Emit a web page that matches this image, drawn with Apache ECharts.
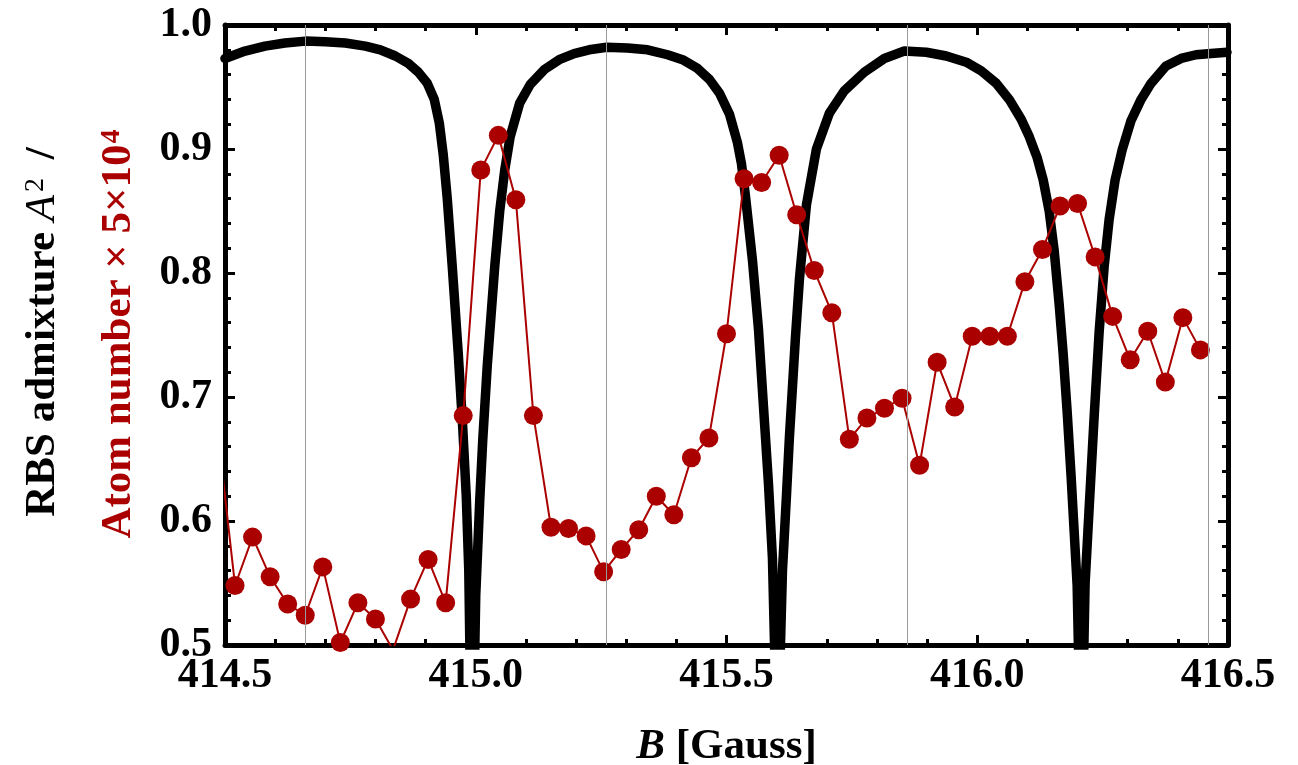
<!DOCTYPE html>
<html><head><meta charset="utf-8">
<script src="https://cdn.jsdelivr.net/npm/echarts@6/dist/echarts.min.js"></script>
<style>html,body{margin:0;padding:0;background:#fff}#c{width:1298px;height:765px}</style>
</head><body><div id="c"></div>
<script>
// Measured atom number (scaled), B in Gauss
const atomB = [414.485,414.520,414.555,414.590,414.625,414.660,414.695,414.730,414.765,414.800,
  414.835,414.870,414.905,414.940,414.975,415.010,415.045,415.080,415.115,415.150,
  415.185,415.220,415.255,415.290,415.325,415.360,415.395,415.430,415.465,415.500,
  415.535,415.570,415.605,415.640,415.675,415.710,415.745,415.780,415.815,415.850,
  415.885,415.920,415.955,415.990,416.025,416.060,416.095,416.130,416.165,416.200,
  416.235,416.270,416.305,416.340,416.375,416.410,416.445];
const atomN = [0.674,0.548,0.587,0.555,0.533,0.524,0.563,0.502,0.534,0.521,
  0.496,0.537,0.569,0.534,0.685,0.883,0.911,0.859,0.685,0.595,
  0.594,0.588,0.559,0.577,0.593,0.620,0.605,0.651,0.667,0.751,
  0.876,0.873,0.895,0.847,0.802,0.768,0.666,0.683,0.691,0.699,
  0.645,0.728,0.692,0.749,0.749,0.749,0.793,0.819,0.854,0.856,
  0.813,0.765,0.730,0.753,0.712,0.764,0.738];
// RBS admixture curve A^2
const rbsB = [414.5000,414.5398,414.5797,414.6195,
  414.6604,414.7002,414.7400,414.7799,414.8098,414.8396,414.8655,414.8855,414.9034,414.9173,
  414.9273,414.9353,414.9432,414.9532,414.9651,414.9741,414.9811,414.9861,414.9900,414.9930,
  414.9960,415.0000,415.0080,415.0139,415.0229,415.0378,415.0478,415.0578,415.0687,415.0876,
  415.1086,415.1365,415.1663,415.1962,415.2261,415.2610,
  415.3028,415.3426,415.3825,415.4124,415.4422,415.4661,415.4861,415.5060,415.5219,415.5299,
  415.5378,415.5518,415.5637,415.5757,415.5837,415.5916,415.5976,415.6016,
  415.6056,415.6116,415.6195,415.6255,415.6375,415.6454,415.6594,415.6793,415.7052,415.7351,
  415.7749,415.8147,415.8546,
  415.8984,415.9382,415.9781,416.0080,416.0378,416.0637,416.0876,416.1036,416.1195,416.1315,
  416.1434,416.1534,416.1633,416.1713,416.1793,416.1873,416.1932,416.1992,416.2032,416.2072,
  416.2112,416.2151,416.2231,416.2331,416.2430,416.2530,416.2629,416.2749,416.2888,416.3068,
  416.3267,416.3466,416.3765,416.4064,416.4363,416.4661,416.4980];
const rbsA2 = [0.973,0.979,0.983,0.9855,
  0.987,0.9865,0.9855,0.983,0.980,0.975,0.969,0.962,0.953,0.940,
  0.921,0.895,0.860,0.805,0.735,0.675,0.620,0.560,0.450,0.0,
  0.450,0.540,0.617,0.665,0.725,0.805,0.850,0.883,0.910,0.937,
  0.952,0.964,0.972,0.977,0.980,0.982,
  0.9815,0.980,0.976,0.972,0.965,0.956,0.945,0.928,0.905,0.888,
  0.862,0.810,0.755,0.680,0.630,0.570,0.470,0.0,
  0.470,0.560,0.620,0.668,0.748,0.795,0.855,0.900,0.929,0.947,
  0.962,0.973,0.979,
  0.978,0.975,0.970,0.963,0.953,0.940,0.924,0.910,0.893,0.875,
  0.850,0.818,0.775,0.735,0.688,0.635,0.592,0.548,0.470,0.0,
  0.470,0.550,0.610,0.684,0.752,0.805,0.843,0.875,0.899,0.923,
  0.940,0.953,0.967,0.973,0.976,0.977,0.978];
const xTickLabels = ['414.5','415.0','415.5','416.0','416.5'];
const yTickLabels = ['0.5','0.6','0.7','0.8','0.9','1.0'];
const gridLinesB = [414.661, 415.261, 415.855, 416.456];

const FONT = 'Liberation Serif';
const RED = '#aa0000';
const chart = echarts.init(document.getElementById('c'), null, {renderer: 'canvas'});

function axisCommon(isX, showLabel, pos) {
  return {
    type: 'value',
    position: pos,
    min: isX ? 414.5 : 0.5,
    max: isX ? 416.5 : 1.0,
    interval: isX ? 0.5 : 0.1,
    axisLine: {show: true, onZero: false, lineStyle: {color: '#000', width: 5}},
    axisTick: {show: true, inside: true, length: 10, lineStyle: {color: '#000', width: 3}},
    minorTick: {show: true, splitNumber: 5, length: 6, lineStyle: {color: '#000', width: 3}},
    splitLine: {show: false},
    minorSplitLine: {show: false},
    axisLabel: {
      show: showLabel,
      fontFamily: FONT, fontWeight: 'bold', fontSize: 42, color: '#000',
      margin: isX ? 10 : 13,
      formatter: function (v) {
        const labels = isX ? xTickLabels : yTickLabels;
        const base = isX ? 414.5 : 0.5, step = isX ? 0.5 : 0.1;
        const i = Math.round((v - base) / step);
        return labels[i] !== undefined ? labels[i] : '';
      }
    }
  };
}

const option = {
  animation: false,
  backgroundColor: '#fff',
  grid: {left: 225, right: 70, top: 25, bottom: 120, show: false,
    containLabel: false, outerBoundsMode: 'none'},
  xAxis: [
    Object.assign(axisCommon(true, true, 'bottom'), {
      name: '{i|B} [Gauss]', nameLocation: 'middle', nameGap: 80,
      nameTextStyle: {fontFamily: FONT, fontWeight: 'bold', fontSize: 43, color: '#000',
        rich: {i: {fontFamily: FONT, fontWeight: 'bold', fontStyle: 'italic', fontSize: 43, color: '#000'}}}
    }),
    axisCommon(true, false, 'top')
  ],
  yAxis: [axisCommon(false, true, 'left'), axisCommon(false, false, 'right')],
  graphic: [
    {
      type: 'text', x: 43, y: 332, rotation: Math.PI / 2,
      style: {
        text: '{b|RBS admixture }{i|A}{s|2}{b| /}',
        align: 'center', verticalAlign: 'middle',
        rich: {
          b: {fontFamily: FONT, fontWeight: 'bold', fontSize: 43, fill: '#000'},
          i: {fontFamily: FONT, fontStyle: 'italic', fontSize: 43, fill: '#000'},
          s: {fontFamily: FONT, fontSize: 28, fill: '#000', verticalAlign: 'top', padding: [0, 8, 14, 3]}
        }
      }
    },
    {
      type: 'text', x: 119, y: 334, rotation: Math.PI / 2,
      style: {
        text: '{b|Atom number \u00d7 5\u00d710}{s|4}',
        align: 'center', verticalAlign: 'middle',
        rich: {
          b: {fontFamily: FONT, fontWeight: 'bold', fontSize: 43, fill: RED},
          s: {fontFamily: FONT, fontWeight: 'bold', fontSize: 28, fill: RED, verticalAlign: 'top', padding: [0, 0, 14, 1]}
        }
      }
    }
  ],
  series: [
    {
      type: 'line', name: 'grid', data: [], z: 1, silent: true,
      markLine: {
        silent: true, symbol: ['none', 'none'], label: {show: false},
        lineStyle: {color: '#9a9a9a', width: 1, type: 'solid'},
        emphasis: {disabled: true},
        data: gridLinesB.map(v => ({xAxis: v}))
      }
    },
    {
      type: 'line', name: 'RBS admixture', z: 2,
      data: rbsB.map((b, i) => [b, rbsA2[i]]),
      showSymbol: false, smooth: false, clip: true,
      lineStyle: {color: '#000', width: 9.5, join: 'round', cap: 'round'}
    },
    {
      type: 'line', name: 'Atom number', z: 3,
      data: atomB.map((b, i) => [b, atomN[i]]),
      symbol: 'circle', symbolSize: 19, clip: true,
      itemStyle: {color: RED},
      lineStyle: {color: RED, width: 2}
    }
  ]
};
chart.setOption(option);
</script>
</body></html>
